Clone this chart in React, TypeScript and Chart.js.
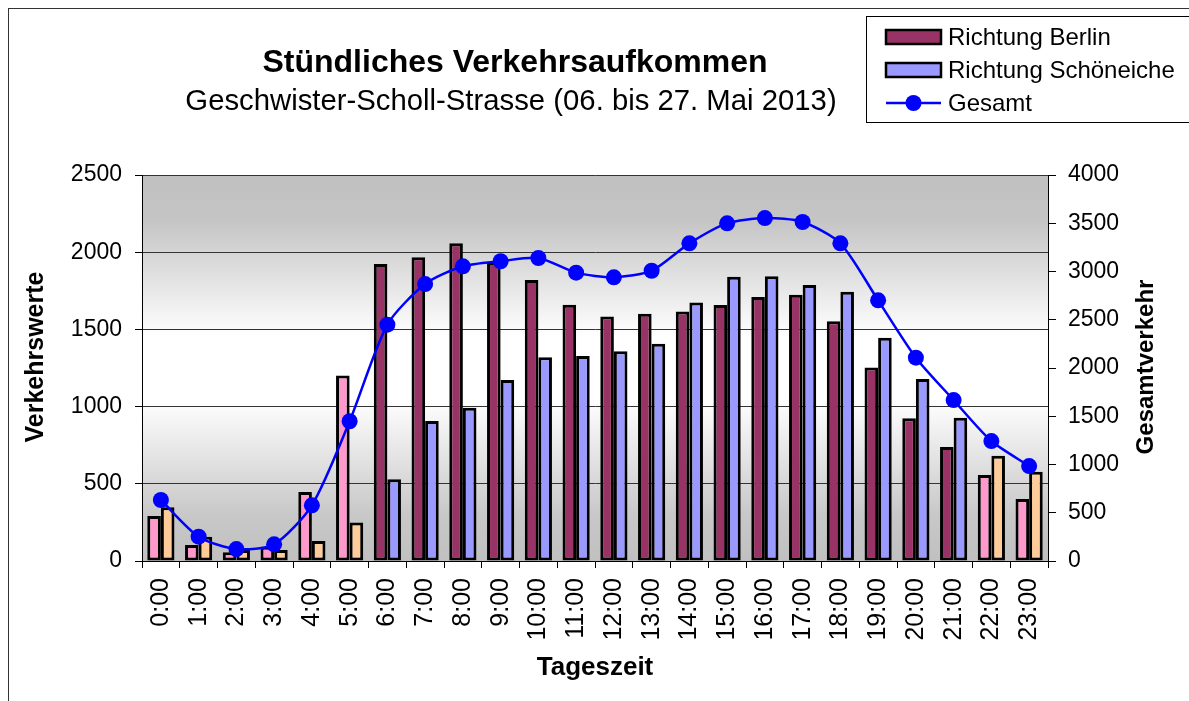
import React, { useEffect, useRef } from "react";
import { Chart, registerables } from "chart.js";

Chart.register(...registerables);

// ---- data ----
const hours = [
  "0:00", "1:00", "2:00", "3:00", "4:00", "5:00", "6:00", "7:00", "8:00", "9:00", "10:00", "11:00",
  "12:00", "13:00", "14:00", "15:00", "16:00", "17:00", "18:00", "19:00", "20:00", "21:00", "22:00", "23:00",
];
const berlin = [291, 104, 56, 93, 447, 1202, 1923, 1967, 2058, 1937, 1820, 1660, 1583, 1602, 1616, 1658, 1710, 1725, 1552, 1254, 924, 738, 557, 401];
const schoeneiche = [348, 157, 71, 71, 130, 250, 529, 907, 993, 1172, 1319, 1328, 1358, 1407, 1675, 1841, 1844, 1788, 1744, 1446, 1179, 928, 682, 578];
const gesamt = [632, 252, 124, 173, 577, 1448, 2449, 2870, 3054, 3106, 3140, 2988, 2940, 3008, 3292, 3499, 3554, 3513, 3292, 2701, 2107, 1668, 1243, 984];
const nightHours = ["0:00", "1:00", "2:00", "3:00", "4:00", "5:00", "22:00", "23:00"];
const seriesNames = ["Richtung Berlin", "Richtung Schöneiche", "Gesamt"];
const leftAxis = [0, 2500, 500]; // min, max, step
const rightAxis = [0, 4000, 500];
const chartTitle = "Stündliches Verkehrsaufkommen";
const chartSubtitle = "Geschwister-Scholl-Strasse (06. bis 27. Mai 2013)";
const xTitle = "Tageszeit";
const yTitle = "Verkehrswerte";
const y1Title = "Gesamtverkehr";

// ---- style ----
const FONT = "'Liberation Sans', Arial, Helvetica, sans-serif";
const C_BERLIN = "#993366";
const C_SCHOEN = "#9999FF";
const C_NIGHT1 = "#FF99CC";
const C_NIGHT2 = "#FFCC99";
const C_LINE = "#0000FF";
const W = 1180;
const H = 692;
const OFF = 9; // page -> canvas offset

const decoPlugin = {
  id: "deco",
  beforeDraw(chart: any) {
    const { ctx, chartArea: a } = chart;
    const g = ctx.createLinearGradient(0, a.top, 0, a.bottom);
    g.addColorStop(0, "#C0C0C0");
    g.addColorStop(0.12, "#C5C5C5");
    g.addColorStop(0.42, "#FFFFFF");
    g.addColorStop(0.58, "#FFFFFF");
    g.addColorStop(0.88, "#C8C8C8");
    g.addColorStop(1, "#C0C0C0");
    ctx.save();
    ctx.fillStyle = g;
    ctx.fillRect(a.left, a.top, a.right - a.left, a.bottom - a.top);
    ctx.restore();
  },
  afterDraw(chart: any) {
    const { ctx } = chart;
    ctx.save();
    ctx.fillStyle = "#000";
    // titles
    ctx.textAlign = "center";
    ctx.textBaseline = "alphabetic";
    ctx.font = `bold 32px ${FONT}`;
    ctx.fillText(chartTitle, 515 - OFF, 72 - OFF);
    ctx.font = `29.3px ${FONT}`;
    ctx.fillText(chartSubtitle, 511 - OFF, 110 - OFF);
    ctx.font = `bold 26px ${FONT}`;
    ctx.fillText(xTitle, 595 - OFF, 675 - OFF);
    // rotated axis titles
    ctx.textBaseline = "middle";
    ctx.font = `bold 25px ${FONT}`;
    ctx.save();
    ctx.translate(36 - OFF, 357 - OFF);
    ctx.rotate(-Math.PI / 2);
    ctx.fillText(yTitle, 0, 0);
    ctx.restore();
    ctx.font = `bold 24px ${FONT}`;
    ctx.save();
    ctx.translate(1146 - OFF, 367 - OFF);
    ctx.rotate(-Math.PI / 2);
    ctx.fillText(y1Title, 0, 0);
    ctx.restore();

    // legend
    const lx = 866 - OFF;
    const ly = 16 - OFF;
    ctx.fillStyle = "#FFF";
    ctx.fillRect(lx, ly, W - lx + 10, 106);
    ctx.strokeStyle = "#000";
    ctx.lineWidth = 1;
    ctx.strokeRect(lx + 0.5, ly + 0.5, W - lx + 10, 106);
    const rows = [37, 70, 103].map((v) => v - OFF);
    const sx0 = 886 - OFF;
    const sx1 = 941 - OFF;
    const swatch = [C_BERLIN, C_SCHOEN];
    for (let i = 0; i < 2; i++) {
      ctx.fillStyle = swatch[i];
      ctx.fillRect(sx0, rows[i] - 7, sx1 - sx0, 14);
      ctx.lineWidth = 2.5;
      ctx.strokeStyle = "#000";
      ctx.strokeRect(sx0, rows[i] - 7, sx1 - sx0, 14);
    }
    ctx.strokeStyle = C_LINE;
    ctx.lineWidth = 2.5;
    ctx.beginPath();
    ctx.moveTo(sx0, rows[2]);
    ctx.lineTo(sx1, rows[2]);
    ctx.stroke();
    ctx.fillStyle = C_LINE;
    ctx.beginPath();
    ctx.arc((sx0 + sx1) / 2, rows[2], 8, 0, Math.PI * 2);
    ctx.fill();
    ctx.fillStyle = "#000";
    ctx.textAlign = "left";
    ctx.textBaseline = "middle";
    ctx.font = `24px ${FONT}`;
    for (let i = 0; i < 3; i++) ctx.fillText(seriesNames[i], 948 - OFF, rows[i] + 1);
    ctx.restore();
  },
};

export default function App() {
  const ref = useRef<HTMLCanvasElement | null>(null);
  useEffect(() => {
    if (!ref.current) return;
    const isNight = (h: string) => nightHours.includes(h);
    const plain = (v: any) => String(v);
    const chart = new Chart(ref.current, {
      type: "bar",
      data: {
        labels: hours,
        datasets: [
          {
            type: "line",
            label: seriesNames[2],
            data: gesamt,
            yAxisID: "y1",
            borderColor: C_LINE,
            backgroundColor: C_LINE,
            borderWidth: 2.5,
            pointRadius: 8,
            pointBackgroundColor: C_LINE,
            pointBorderWidth: 0,
            tension: 0.25,
            order: 0,
          } as any,
          {
            type: "bar",
            label: seriesNames[0],
            data: berlin,
            yAxisID: "y",
            backgroundColor: hours.map((h) => (isNight(h) ? C_NIGHT1 : C_BERLIN)),
            borderColor: "#000",
            borderWidth: 3,
            borderSkipped: false,
            categoryPercentage: 0.72,
            barPercentage: 1.0,
            order: 1,
          },
          {
            type: "bar",
            label: seriesNames[1],
            data: schoeneiche,
            yAxisID: "y",
            backgroundColor: hours.map((h) => (isNight(h) ? C_NIGHT2 : C_SCHOEN)),
            borderColor: "#000",
            borderWidth: 3,
            borderSkipped: false,
            categoryPercentage: 0.72,
            barPercentage: 1.0,
            order: 1,
          },
        ],
      },
      options: {
        responsive: false,
        animation: false,
        devicePixelRatio: 1,
        layout: { padding: { top: 175 - OFF, left: 0, right: 0, bottom: 0 } },
        plugins: {
          legend: { display: false },
          title: { display: false },
          tooltip: { enabled: false },
        },
        scales: {
          x: {
            offset: true,
            grid: { offset: true, drawOnChartArea: false, drawTicks: true, tickLength: 7, color: "#000", tickColor: "#000" },
            border: { display: true, color: "#000", width: 1 },
            ticks: {
              autoSkip: false,
              maxRotation: 90,
              minRotation: 90,
              color: "#000",
              padding: 10,
              font: { size: 25, family: FONT },
            },
            afterFit: (s: any) => {
              s.height = H - (561 - OFF);
            },
          },
          y: {
            position: "left",
            min: leftAxis[0],
            max: leftAxis[1],
            ticks: { stepSize: leftAxis[2], color: "#000", padding: 13, font: { size: 23, family: FONT }, callback: plain },
            grid: { color: "#333", tickColor: "#000", tickLength: 7, lineWidth: 1 },
            border: { display: true, color: "#000", width: 1 },
            afterFit: (s: any) => {
              s.width = 142 - OFF;
            },
          },
          y1: {
            position: "right",
            min: rightAxis[0],
            max: rightAxis[1],
            ticks: { stepSize: rightAxis[2], color: "#000", padding: 12, font: { size: 23, family: FONT }, callback: plain },
            grid: { drawOnChartArea: false, tickColor: "#000", tickLength: 8 },
            border: { display: true, color: "#000", width: 1 },
            afterFit: (s: any) => {
              s.width = W - (1048 - OFF);
            },
          },
        },
      },
      plugins: [decoPlugin],
    });
    return () => chart.destroy();
  }, []);

  return (
    <div
      style={{
        position: "fixed",
        left: 8,
        top: 8,
        width: W,
        height: H,
        borderLeft: "1px solid #333",
        borderTop: "1px solid #333",
        background: "#fff",
        overflow: "hidden",
      }}
    >
      <canvas ref={ref} width={W} height={H} style={{ display: "block", width: W, height: H }} />
    </div>
  );
}
